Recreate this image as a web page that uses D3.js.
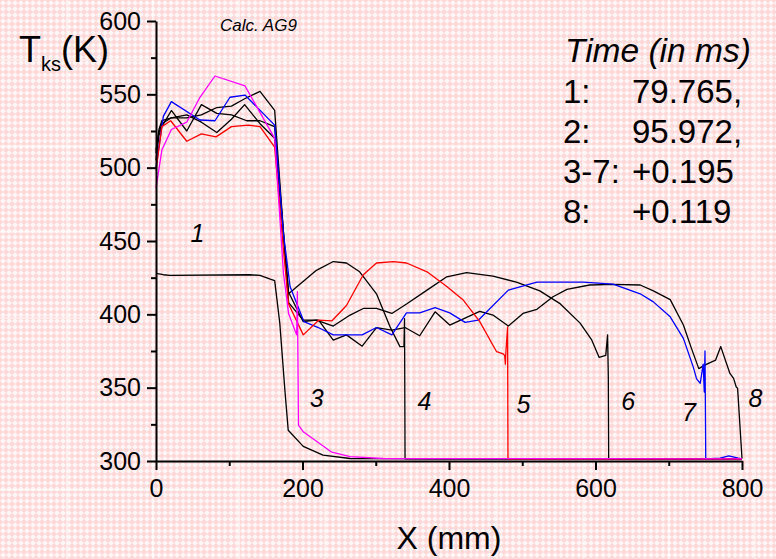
<!DOCTYPE html>
<html>
<head>
<meta charset="utf-8">
<script src="https://cdn.jsdelivr.net/npm/d3@7"></script>
<style>
  body { margin: 0; }
  svg { display: block; font-family: "Liberation Sans", Arial, sans-serif; }
</style>
</head>
<body>
<svg id="chart" width="776" height="559"></svg>
<script>
// curves: [x (mm), T (K)]
const curve1 = [[0,428],[10,427],[19,426.5],[128,427],[142,426.6],[156,424],[162,423],[169,394],[176,348],[180.5,321],[201,310],[228,304],[265,301.7],[400,301.5],[800,301.5]];
const curve3 = [[0,486],[8,512],[21,526],[42,531],[60,548],[80.5,562.5],[121.5,555.7],[162,520],[174,428],[181,400.6],[192,386],[193,415.4],[194.5,324.5],[201,320],[240,306],[265,303],[310,301.7],[800,301.5]];
const curve4 = [[0,505],[4,522],[8,528],[21,539],[42,525],[62,543],[83,537],[103,536],[124,532],[142,532],[162,528],[181,414],[200,422],[219,430],[242,436],[260,435],[278,429],[301,414],[319.5,391.5],[333,378],[338.5,378],[339.3,397],[340,301.5],[800,301.5]];
const curve5 = [[0,498],[8,528],[20,532],[42,518],[62,523],[82,521],[103,528],[126,529],[142,528],[162,514],[174,444],[181,407],[201,386],[222,396],[240,395.5],[260,406],[283,427],[301,435],[324,436],[342,435],[370,429],[397,419],[419,410],[442,395],[465,374.5],[474,373],[476,372],[477,366],[477.5,373],[480,391.5],[480.5,301.5],[800,301.5]];
const curve6 = [[0,510],[4,524],[8,530],[21,534],[42,536],[62,531],[83,524],[103,533],[121,543],[142,530],[162,520],[181,415],[201,395],[219,396],[242,392],[265,399.5],[283,404],[301,404],[322,400.6],[342,407],[370,416.5],[397,425.6],[424,428.5],[460,426],[492,422],[524,416],[551,407.5],[579,394],[595,382.4],[605,370.6],[614,372],[616.5,386],[617.5,357],[618,301.5],[800,301.5]];
const curve7 = [[0,500],[10,535],[21,545],[60,532.5],[80.5,532],[101,548],[121.5,549.5],[162,529],[174,455],[183,419],[202,395],[221.5,391],[242,386],[281.5,386],[301,391],[322,386],[342,401],[360,401],[381,404.5],[401,401],[422,394.5],[440,396],[481,416.5],[520,422],[583,422],[624,420.6],[661,414],[679,408.5],[702,398.3],[720,383.6],[733.5,364],[738,356],[743,353],[747,366],[748.5,347],[749.5,375],[750.5,301.5],[770,302],[782,303.5],[795,302],[800,301.5]];
const curve8 = [[0,512],[4,526],[8,532],[21,534],[42,534],[62,536],[83,541],[103,542],[121,547],[142,552],[162,539],[181,408],[201,396],[222,396],[242,382.4],[260,386],[281.5,378.3],[301,391],[322,389.3],[340,391],[360,385.4],[381,401.7],[401,392.7],[442,402],[460,399.5],[481,392],[501,400.6],[520,403.4],[542,412],[561,417],[592,420],[624,420.4],[661,420],[679,416],[702,410],[720,392.7],[731,376.8],[741,363],[749,365.4],[764,368.8],[771,378],[783.5,359.7],[788.5,356.3],[792,350.6],[794,349.5],[800,301.7]];

const seriesList = [
  { data: curve1, color: "#000000" },
  { data: curve8, color: "#000000" },
  { data: curve6, color: "#000000" },
  { data: curve4, color: "#000000" },
  { data: curve7, color: "#0000ff" },
  { data: curve5, color: "#ff0000" },
  { data: curve3, color: "#ff00ff" }
];

const curveLabels = [
  { text: "1", x: 47, y: 449 },
  { text: "3", x: 210, y: 337 },
  { text: "4", x: 357, y: 335 },
  { text: "5", x: 492, y: 333 },
  { text: "6", x: 635, y: 335 },
  { text: "7", x: 718, y: 327 },
  { text: "8", x: 809, y: 337 }
];

const legendLines = [["1:", "79.765,"], ["2:", "95.972,"], ["3-7:", "+0.195"], ["8:", "+0.119"]];

const xTicks = [0, 200, 400, 600, 800];
const xMinor = [100, 300, 500, 700];
const yTicks = [300, 350, 400, 450, 500, 550, 600];
const yMinor = [325, 375, 425, 475, 525, 575];

const svg = d3.select("#chart");

// background texture
const defs = svg.append("defs");
const pat = defs.append("pattern")
  .attr("id", "bg")
  .attr("width", 6).attr("height", 6)
  .attr("patternUnits", "userSpaceOnUse");
pat.append("rect").attr("width", 6).attr("height", 6).attr("fill", "#ffd9d9");
pat.append("polygon").attr("points", "3,0.2 5.8,3 3,5.8 0.2,3").attr("fill", "#ffffff").attr("opacity", 0.8);

svg.append("rect").attr("width", 776).attr("height", 559).attr("fill", "url(#bg)");

// faint tile seams
const seams = svg.append("g").attr("stroke", "#ffffff").attr("stroke-opacity", 0.45).attr("stroke-width", 2);
d3.range(67, 776, 86).forEach(v => seams.append("line").attr("x1", v).attr("x2", v).attr("y1", 0).attr("y2", 559));
d3.range(60, 559, 86).forEach(v => seams.append("line").attr("y1", v).attr("y2", v).attr("x1", 0).attr("x2", 776));

const x = d3.scaleLinear().domain([0, 800]).range([156, 742]);
const y = d3.scaleLinear().domain([300, 600]).range([461, 21]);

// lines
const line = d3.line().x(d => x(d[0])).y(d => y(d[1]));
svg.append("g").selectAll("path").data(seriesList).join("path")
  .attr("d", d => line(d.data))
  .attr("fill", "none")
  .attr("stroke", d => d.color)
  .attr("stroke-width", 1.3)
  .attr("stroke-linejoin", "round");

// axes
svg.append("g").attr("transform", "translate(156,0)")
  .call(d3.axisLeft(y).tickValues(yTicks).tickSize(9).tickSizeOuter(0).tickPadding(6));
svg.append("g").attr("transform", "translate(156,0)")
  .call(d3.axisLeft(y).tickValues(yMinor).tickSize(5).tickFormat(""))
  .call(g => g.select(".domain").remove());
svg.append("g").attr("transform", "translate(0,461)")
  .call(d3.axisBottom(x).tickValues(xTicks).tickSize(9).tickSizeOuter(0).tickPadding(9));
svg.append("g").attr("transform", "translate(0,461)")
  .call(d3.axisBottom(x).tickValues(xMinor).tickSize(5).tickFormat(""))
  .call(g => g.select(".domain").remove());

svg.selectAll(".domain").attr("stroke", "#000").attr("stroke-width", 2);
svg.selectAll(".tick line").attr("stroke", "#000").attr("stroke-width", 2);
svg.selectAll(".tick text").attr("font-size", 25).attr("fill", "#000")
  .attr("font-family", "Liberation Sans, Arial, sans-serif");

// axis titles
svg.append("text").attr("x", 449).attr("y", 549).attr("text-anchor", "middle")
  .attr("font-size", 32).text("X (mm)");
const yt = svg.append("text").attr("x", 19).attr("y", 62).attr("font-size", 36);
yt.append("tspan").text("T");
yt.append("tspan").attr("font-size", 20).attr("dy", 9).text("ks");
yt.append("tspan").attr("dy", -9).text("(K)");

svg.append("text").attr("x", 220).attr("y", 31).attr("font-size", 17)
  .attr("font-style", "italic").text("Calc. AG9");

// curve numbers
svg.append("g").selectAll("text").data(curveLabels).join("text")
  .attr("x", d => x(d.x)).attr("y", d => y(d.y))
  .attr("font-size", 25).attr("font-style", "italic")
  .text(d => d.text);

// legend text
svg.append("text").attr("x", 565).attr("y", 62).attr("font-size", 33.5)
  .attr("font-style", "italic").text("Time (in ms)");
const leg = svg.append("g").selectAll("g").data(legendLines).join("g")
  .attr("transform", (d, i) => `translate(0,${103 + i * 40})`);
leg.append("text").attr("x", 563).attr("font-size", 33).text(d => d[0]);
leg.append("text").attr("x", 632).attr("font-size", 33).text(d => d[1]);
</script>
</body>
</html>
